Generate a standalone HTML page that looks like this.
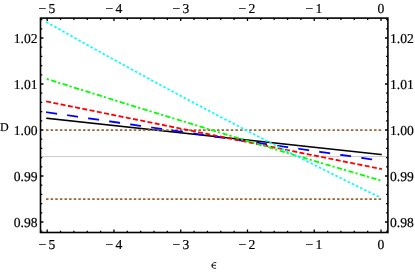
<!DOCTYPE html>
<html><head><meta charset="utf-8"><style>
html,body{margin:0;padding:0;background:#fff;}
body{width:415px;height:272px;overflow:hidden;position:relative;font-family:"Liberation Serif",serif;}
svg{position:absolute;left:0;top:0;}
.t{position:absolute;font-size:13.6px;line-height:16px;color:#000;white-space:nowrap;letter-spacing:0;transform:rotate(0.03deg);-webkit-text-stroke:0.2px #000;}
.m{letter-spacing:2.3px;}
#lab{position:absolute;left:0;top:0;width:415px;height:272px;will-change:transform;}
</style></head><body>
<svg width="415" height="272" viewBox="0 0 415 272">
<line x1="40.5" x2="387.9" y1="156.5" y2="156.5" stroke="#cdcdcd" stroke-width="1"/>
<path d="M47.0 118.33 Q214.00 136.40 381.0 154.46" fill="none" stroke="#000" stroke-width="1.6" stroke-linecap="square"/>
<line x1="46.85" x2="381.0" y1="130.10" y2="130.10" stroke="#996633" stroke-width="1.7" stroke-linecap="square" stroke-dasharray="0.800 3.820"/>
<line x1="46.85" x2="381.0" y1="199.10" y2="199.10" stroke="#996633" stroke-width="1.7" stroke-linecap="square" stroke-dasharray="0.800 3.820"/>
<path d="M47.0 112.31 Q214.00 136.50 381.0 160.68" fill="none" stroke="#0000ff" stroke-width="1.8" stroke-linecap="square" stroke-dasharray="9.200 12.030"/>
<path d="M47.0 101.55 Q214.00 135.34 381.0 168.94" fill="none" stroke="#ff0000" stroke-width="1.8" stroke-linecap="square" stroke-dasharray="3.200 4.185"/>
<path d="M47.0 78.99 Q214.00 131.81 381.0 180.57" fill="none" stroke="#00ff00" stroke-width="1.8" stroke-linecap="square" stroke-dasharray="3.400 3.850 0.400 4.300" stroke-dashoffset="6.6"/>
<path d="M47.0 22.28 Q214.00 116.93 381.0 197.81" fill="none" stroke="#00ffff" stroke-width="1.7" stroke-linecap="square" stroke-dasharray="0.800 3.810"/>
<rect x="40.5" y="18.1" width="347.4" height="214.4" fill="none" stroke="#000" stroke-width="1.6"/>
<path d="M47.20 18.1 v2.9 M47.20 232.5 v-2.9 M60.55 18.1 v1.8 M60.55 232.5 v-1.8 M73.90 18.1 v1.8 M73.90 232.5 v-1.8 M87.26 18.1 v1.8 M87.26 232.5 v-1.8 M100.61 18.1 v1.8 M100.61 232.5 v-1.8 M113.96 18.1 v2.9 M113.96 232.5 v-2.9 M127.31 18.1 v1.8 M127.31 232.5 v-1.8 M140.66 18.1 v1.8 M140.66 232.5 v-1.8 M154.02 18.1 v1.8 M154.02 232.5 v-1.8 M167.37 18.1 v1.8 M167.37 232.5 v-1.8 M180.72 18.1 v2.9 M180.72 232.5 v-2.9 M194.07 18.1 v1.8 M194.07 232.5 v-1.8 M207.42 18.1 v1.8 M207.42 232.5 v-1.8 M220.78 18.1 v1.8 M220.78 232.5 v-1.8 M234.13 18.1 v1.8 M234.13 232.5 v-1.8 M247.48 18.1 v2.9 M247.48 232.5 v-2.9 M260.83 18.1 v1.8 M260.83 232.5 v-1.8 M274.18 18.1 v1.8 M274.18 232.5 v-1.8 M287.54 18.1 v1.8 M287.54 232.5 v-1.8 M300.89 18.1 v1.8 M300.89 232.5 v-1.8 M314.24 18.1 v2.9 M314.24 232.5 v-2.9 M327.59 18.1 v1.8 M327.59 232.5 v-1.8 M340.94 18.1 v1.8 M340.94 232.5 v-1.8 M354.30 18.1 v1.8 M354.30 232.5 v-1.8 M367.65 18.1 v1.8 M367.65 232.5 v-1.8 M381.00 18.1 v2.9 M381.00 232.5 v-2.9 M40.5 231.20 h1.8 M387.9 231.20 h-1.8 M40.5 222.00 h2.9 M387.9 222.00 h-2.9 M40.5 212.80 h1.8 M387.9 212.80 h-1.8 M40.5 203.60 h1.8 M387.9 203.60 h-1.8 M40.5 194.40 h1.8 M387.9 194.40 h-1.8 M40.5 185.20 h1.8 M387.9 185.20 h-1.8 M40.5 176.00 h2.9 M387.9 176.00 h-2.9 M40.5 166.80 h1.8 M387.9 166.80 h-1.8 M40.5 157.60 h1.8 M387.9 157.60 h-1.8 M40.5 148.40 h1.8 M387.9 148.40 h-1.8 M40.5 139.20 h1.8 M387.9 139.20 h-1.8 M40.5 130.00 h2.9 M387.9 130.00 h-2.9 M40.5 120.80 h1.8 M387.9 120.80 h-1.8 M40.5 111.60 h1.8 M387.9 111.60 h-1.8 M40.5 102.40 h1.8 M387.9 102.40 h-1.8 M40.5 93.20 h1.8 M387.9 93.20 h-1.8 M40.5 84.00 h2.9 M387.9 84.00 h-2.9 M40.5 74.80 h1.8 M387.9 74.80 h-1.8 M40.5 65.60 h1.8 M387.9 65.60 h-1.8 M40.5 56.40 h1.8 M387.9 56.40 h-1.8 M40.5 47.20 h1.8 M387.9 47.20 h-1.8 M40.5 38.00 h2.9 M387.9 38.00 h-2.9 M40.5 28.80 h1.8 M387.9 28.80 h-1.8 M40.5 19.60 h1.8 M387.9 19.60 h-1.8" stroke="#000" stroke-width="1.3" fill="none"/>
<path d="M216.3 262.6 C214.6 262.1 212.1 262.9 212.1 265.5 C212.1 268.1 214.2 268.9 216.1 268.1 M212.5 265.3 H216" fill="none" stroke="#111" stroke-width="0.9"/><path d="M212.25 263.9 C211.95 265 211.95 266.2 212.4 267.3" fill="none" stroke="#111" stroke-width="0.9"/>
</svg>
<div id="lab"><div class="t" style="left:27.20px;top:0.5px;width:40px;text-align:center"><span class="m">−</span>5</div><div class="t" style="left:27.20px;top:237px;width:40px;text-align:center"><span class="m">−</span>5</div><div class="t" style="left:93.96px;top:0.5px;width:40px;text-align:center"><span class="m">−</span>4</div><div class="t" style="left:93.96px;top:237px;width:40px;text-align:center"><span class="m">−</span>4</div><div class="t" style="left:160.72px;top:0.5px;width:40px;text-align:center"><span class="m">−</span>3</div><div class="t" style="left:160.72px;top:237px;width:40px;text-align:center"><span class="m">−</span>3</div><div class="t" style="left:227.48px;top:0.5px;width:40px;text-align:center"><span class="m">−</span>2</div><div class="t" style="left:227.48px;top:237px;width:40px;text-align:center"><span class="m">−</span>2</div><div class="t" style="left:294.24px;top:0.5px;width:40px;text-align:center"><span class="m">−</span>1</div><div class="t" style="left:294.24px;top:237px;width:40px;text-align:center"><span class="m">−</span>1</div><div class="t" style="left:361.00px;top:0.5px;width:40px;text-align:center">0</div><div class="t" style="left:361.00px;top:237px;width:40px;text-align:center">0</div><div class="t" style="left:0;width:37.5px;text-align:right;top:31.00px">1.02</div><div class="t" style="left:390.4px;top:31.00px">1.02</div><div class="t" style="left:0;width:37.5px;text-align:right;top:77.00px">1.01</div><div class="t" style="left:390.4px;top:77.00px">1.01</div><div class="t" style="left:0;width:37.5px;text-align:right;top:123.00px">1.00</div><div class="t" style="left:390.4px;top:123.00px">1.00</div><div class="t" style="left:0;width:37.5px;text-align:right;top:169.00px">0.99</div><div class="t" style="left:390.4px;top:169.00px">0.99</div><div class="t" style="left:0;width:37.5px;text-align:right;top:215.00px">0.98</div><div class="t" style="left:390.4px;top:215.00px">0.98</div><div class="t" style="left:-0.3px;top:118.6px;font-size:12px">D</div></div>
</body></html>
